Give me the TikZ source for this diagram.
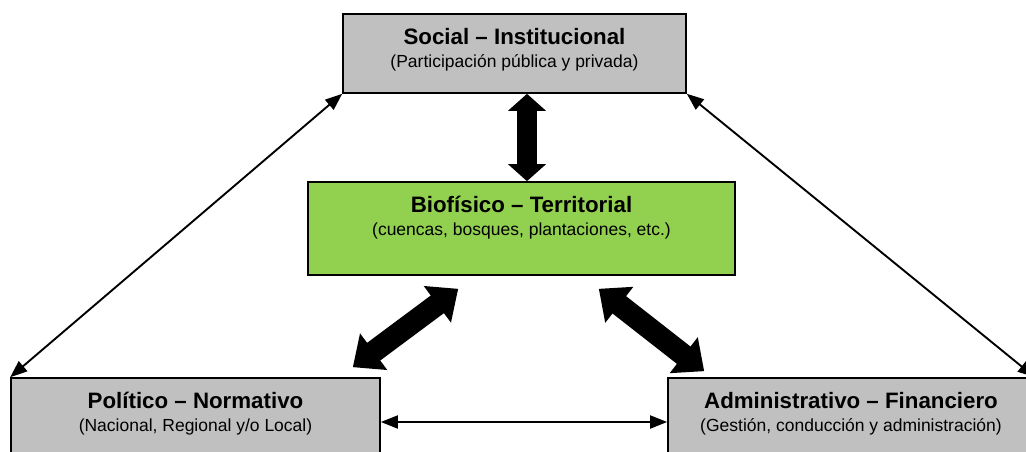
\documentclass[tikz,border=0pt]{standalone}
\usepackage{fontspec}
\setmainfont{Liberation Sans}
\usetikzlibrary{arrows.meta,positioning}
\definecolor{boxgray}{RGB}{192,192,192}
\definecolor{boxgreen}{RGB}{146,208,80}
\newcommand{\ttl}[1]{{\fontsize{22.3}{23.5}\selectfont\bfseries #1}}
\tikzset{
  box/.style={draw=black, line width=1.6pt, inner sep=0pt},
  txt/.style={align=center, inner sep=0pt, font=\fontsize{17.5}{23.5}\selectfont},
  thinarrow/.style={line width=1.9pt, {Triangle[length=17pt,width=13pt]}-{Triangle[length=17pt,width=13pt]}},
  fatarrow/.style={line width=20pt, {Triangle[length=17pt,width=37pt]}-{Triangle[length=17pt,width=37pt]}},
  slantarrow/.style={line width=22pt, {Triangle[length=26pt,width=44pt]}-{Triangle[length=26pt,width=44pt]}}
}
\begin{document}
\begin{tikzpicture}[x=1pt, y=-1pt]
\useasboundingbox (0,0) rectangle (1026,452);
\node (social) at (514.5,53.5) [box, fill=boxgray, minimum width=343pt, minimum height=79pt] {};
\node (bio) at (521.5,228.5) [box, fill=boxgreen, minimum width=427pt, minimum height=93pt] {};
\node (politico) at (195.5,422) [box, fill=boxgray, minimum width=369pt, minimum height=88pt] {};
\node (admin) at (851,422) [box, fill=boxgray, minimum width=366pt, minimum height=88pt] {};
\node (socialtxt) [txt, below=14.5pt of social.north] {\ttl{Social – Institucional}\\(Participación pública y privada)};
\node (biotxt) [txt, below=14.5pt of bio.north] {\ttl{Biofísico – Territorial}\\(cuencas, bosques, plantaciones, etc.)};
\node (politicotxt) [txt, below=14.5pt of politico.north] {\ttl{Político – Normativo}\\(Nacional, Regional y/o Local)};
\node (admintxt) [txt, below=14.5pt of admin.north] {\ttl{Administrativo – Financiero}\\(Gestión, conducción y administración)};
\draw [thinarrow] (social.south west) -- (politico.north west);
\draw [thinarrow] (social.south east) -- (admin.north east);
\draw [thinarrow] (politico.east) -- (admin.west);
\draw [fatarrow] ([xshift=12.5pt]social.south) -- ([xshift=5.5pt]bio.north);
\draw [slantarrow] ([xshift=-28pt, yshift=10pt]politico.north east) -- ([xshift=151pt, yshift=-13pt]bio.south west);
\draw [slantarrow] ([xshift=-137pt, yshift=-13pt]bio.south east) -- ([xshift=37pt, yshift=6pt]admin.north west);
\end{tikzpicture}
\end{document}
